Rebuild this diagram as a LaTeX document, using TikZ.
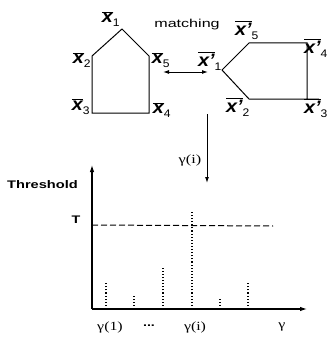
\documentclass[tikz,border=0pt]{standalone}
\usepackage{fontspec}
\usepackage{graphicx}
\setmainfont{Liberation Sans}
\newfontfamily\grfont{Liberation Serif}
\usetikzlibrary{arrows.meta}
\newcommand{\stretchx}[2]{\scalebox{#1}[1]{#2}}
\newcommand{\xb}[1]{\scalebox{1.1}[1]{$\overline{\mbox{\fontsize{18}{18}\selectfont\bfseries\itshape x}}_{\mbox{\fontsize{11}{11}\selectfont #1}}$}}
\newcommand{\xp}[1]{\scalebox{1.1}[1]{$\overline{\mbox{\fontsize{18}{18}\selectfont\bfseries\itshape x'}}_{\mbox{\fontsize{11}{11}\selectfont #1}}$}}
\tikzset{
  outline/.style={line width=1pt},
  lbl/.style={inner sep=0pt},
  bar/.style={dotted, line width=1.1pt},
  axis/.style={line width=1.1pt},
  gr/.style={inner sep=0pt, font=\grfont\fontsize{12.5}{12.5}\selectfont},
}
\begin{document}
\begin{tikzpicture}[x=1pt,y=-1pt]
\useasboundingbox (0,0) rectangle (328,337);
% left pentagon
\coordinate (a1) at (122,29);
\coordinate (a2) at (92,56);
\coordinate (a3) at (92,113);
\coordinate (a4) at (149,113);
\coordinate (a5) at (149,56);
\draw[outline] (a1) -- (a2) -- (a3) -- (a4) -- (a5) -- cycle;
\node[lbl] (l1) at (111,19) {\xb{1}};
\node[lbl] (l2) at (82,60) {\xb{2}};
\node[lbl] (l3) at (81,107) {\xb{3}};
\node[lbl] (l4) at (162,110) {\xb{4}};
\node[lbl] (l5) at (161,60) {\xb{5}};
\node[lbl, font=\fontsize{11.5}{11.5}\selectfont] (match) at (187,25) {\stretchx{1.4}{matching}};
% right shape
\coordinate (b1) at (222,70);
\coordinate (b5) at (249,43);
\coordinate (b4) at (307,43);
\coordinate (b3) at (307,99);
\coordinate (b2) at (249,99);
\coordinate (b3e) at (319,99);
\draw[outline] (b3) -- (b4) -- (b5) -- (b1) -- (b2) -- (b3e);
\node[lbl] (m5) at (247,30) {\xp{5}};
\node[lbl] (m1) at (210,61) {\xp{1}};
\node[lbl] (m4) at (316,48) {\xp{4}};
\node[lbl] (m2) at (238,107) {\xp{2}};
\node[lbl] (m3) at (316,108) {\xp{3}};
% double arrow
\coordinate (da) at (163,72);
\coordinate (db) at (208,72);
\draw[line width=1pt, {Latex[length=6pt,width=4pt]}-{Latex[length=6pt,width=4pt]}] (da) -- (db);
% vertical arrow
\coordinate (va) at (207,114);
\coordinate (vb) at (207,183);
\draw[line width=1pt, -{Latex[length=6pt,width=4pt]}] (va) -- (vb);
\node[gr] (gi) at (190,160) {\stretchx{1.3}{γ(i)}};
% axes
\coordinate (o) at (92,309);
\coordinate (ytop) at (92,165);
\coordinate (xend) at (307,309);
\draw[axis, -{Latex[length=7pt,width=4.5pt]}] (o) -- (ytop);
\draw[axis, -{Latex[length=7pt,width=4.5pt]}] (o) -- (xend);
\node[lbl, font=\bfseries\fontsize{11}{11}\selectfont] (thr) at (42.5,185) {\stretchx{1.33}{Threshold}};
\node[lbl, font=\bfseries\fontsize{11}{11}\selectfont] (tl) at (76,220) {\stretchx{1.3}{T}};
\coordinate (t0) at (92,225);
\coordinate (t1) at (273,226);
\draw[line width=1pt, dash pattern=on 6pt off 3pt] (t0) -- (t1);
% bars
\foreach \x/\y [count=\i] in {106/282, 134/296, 163/267, 192/212, 220/297, 248/283} {
  \coordinate (bb\i) at (\x,309);
  \coordinate (bt\i) at (\x,\y);
  \draw[bar] (bb\i) -- (bt\i);
}
\node[gr] (g1) at (110,327) {\stretchx{1.27}{γ(1)}};
\node[lbl, font=\bfseries\fontsize{11}{11}\selectfont] (dots) at (149,326) {\stretchx{1.3}{...}};
\node[gr] (gi2) at (195,327) {\stretchx{1.27}{γ(i)}};
\node[gr] (gg) at (282,327) {\stretchx{1.27}{γ}};
\end{tikzpicture}
\end{document}
